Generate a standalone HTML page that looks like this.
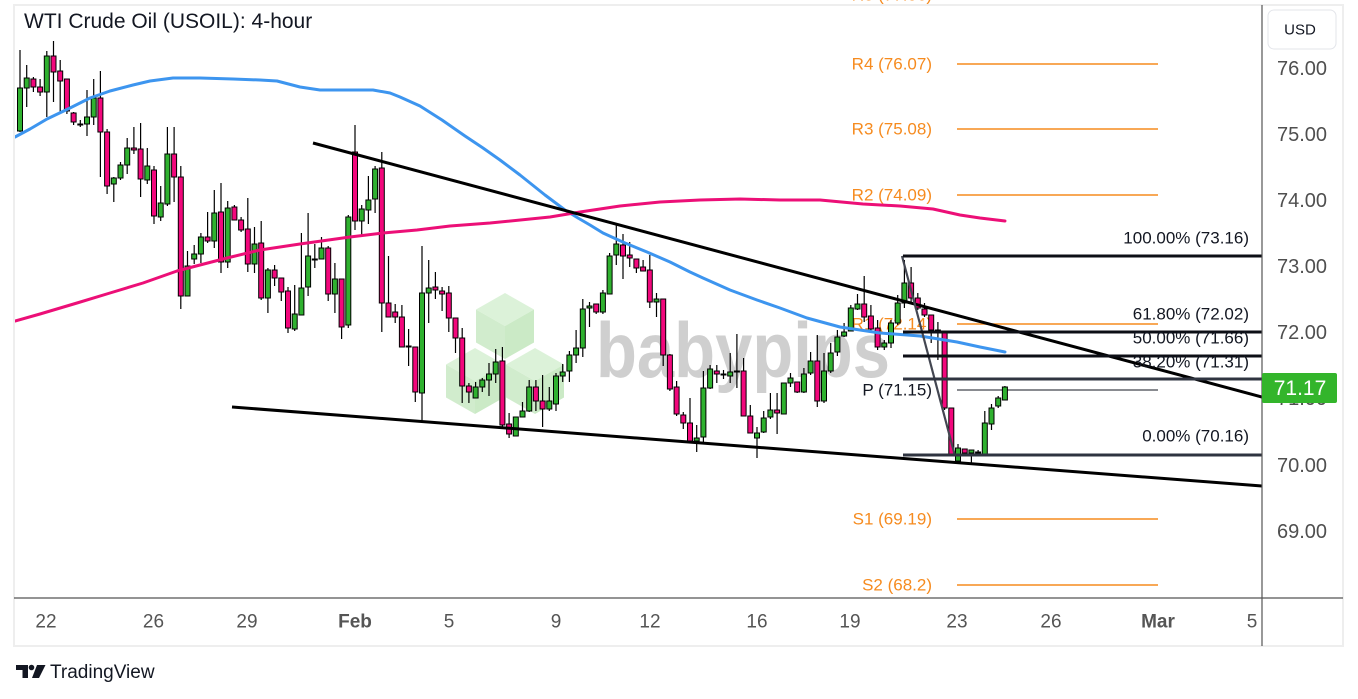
<!DOCTYPE html>
<html><head><meta charset="utf-8"><style>
html,body{margin:0;padding:0;background:#fff;}
svg{display:block;font-family:"Liberation Sans",sans-serif;}
</style></head><body>
<svg width="1358" height="699" viewBox="0 0 1358 699" xmlns="http://www.w3.org/2000/svg">
<rect x="0" y="0" width="1358" height="699" fill="#fff"/>
<rect x="14" y="5" width="1329" height="641" fill="#fff" stroke="#eeeeee" stroke-width="2"/>
<defs><clipPath id="cp"><rect x="15" y="6" width="1247" height="592"/></clipPath></defs>

<!-- watermark -->
<g opacity="0.9">
<g>
<polygon points="505,293 534,309.5 505,326 476,309.5" fill="#d9f1d5"/>
<polygon points="476,309.5 505,326 505,359 476,342.5" fill="#cdebc8"/>
<polygon points="505,326 534,309.5 534,342.5 505,359" fill="#c6e8c0"/>
</g>
<g>
<polygon points="475,348 504,364.5 475,381 446,364.5" fill="#d9f1d5"/>
<polygon points="446,364.5 475,381 475,414 446,397.5" fill="#cdebc8"/>
<polygon points="475,381 504,364.5 504,397.5 475,414" fill="#c6e8c0"/>
</g>
<g>
<polygon points="535,348 564,364.5 535,381 506,364.5" fill="#d9f1d5"/>
<polygon points="506,364.5 535,381 535,414 506,397.5" fill="#cdebc8"/>
<polygon points="535,381 564,364.5 564,397.5 535,414" fill="#c6e8c0"/>
</g>
</g>
<text x="596" y="377" font-size="78" font-weight="bold" fill="#cfcfcf" textLength="294" lengthAdjust="spacingAndGlyphs">babypips</text>

<!-- pivots -->
<g stroke="#f68b1f" stroke-width="1.5">
<path d="M957 64H1158M957 129H1158M957 195H1158M957 324H1158M957 519H1158M957 585H1158"/>
</g>
<path d="M957 390H1158" stroke="#131722" stroke-width="1"/>
<g font-size="17" fill="#f68b1f" text-anchor="end" dominant-baseline="central">
<text x="932" y="-5">R5 (77.06)</text>
<text x="932" y="64">R4 (76.07)</text>
<text x="932" y="129">R3 (75.08)</text>
<text x="932" y="195">R2 (74.09)</text>
<text x="932" y="324">R1 (72.14)</text>
<text x="932" y="519">S1 (69.19)</text>
<text x="932" y="585">S2 (68.2)</text>
</g>
<text x="932" y="390" font-size="17" fill="#131722" text-anchor="end" dominant-baseline="central">P (71.15)</text>

<g clip-path="url(#cp)">
<!-- wicks -->
<path fill="none" stroke="#000" stroke-width="1.2" d="M20 50V132M26.7 65V107M33.4 77V92M40.1 79V96M46.8 51V117M53.5 41V102M60.2 60V114M66.9 79V114M73.6 112V125M80.3 120V127M87 90V136M93.7 79V125M100.4 71V177M107.1 129V194M113.8 177V202M120.5 162V180M127.2 138V174M133.9 127V154M140.6 123V197M147.3 148V184M154 166V224M160.7 186V221M167.4 127V206M174.1 127V202M180.8 166V309M187.5 251V296M194.2 245V264M200.9 233V263M207.6 212V243M214.3 190V248M221 183V273M227.7 201V268M234.4 205V220M241.1 217V232M247.8 198V272M254.5 227V273M261.2 221V300M267.9 268V313M274.6 265V286M281.3 278V301M288 287V333M294.7 285V331M301.4 233V315M308.1 213V296M314.8 244V268M321.5 237V259M328.2 246V301M334.9 263V313M341.6 279V339M348.3 215V328M355 125V230M361.7 205V237M368.4 176V224M375.1 166V213M381.8 152V332M388.5 256V317M395.2 304V323M401.9 305V347M408.6 329V366M415.3 347V402M422 246V423M428.7 260V323M435.4 272V299M442.1 287V311M448.8 286V332M455.5 318V353M462.2 328V403M468.9 383V403M475.6 382V398M482.3 378V392M489 363V396M495.7 349V383M502.4 347V428M509.1 413V438M515.8 417V436M522.5 402V417M529.2 380V412M535.9 380V411M542.6 375V427M549.3 387V411M556 373V411M562.7 364V382M569.4 351V382M576.1 330V363M582.8 299V357M589.5 302V327M596.2 304V314M602.9 290V314M609.6 253V294M616.3 225V265M623 234V279M629.7 242V267M636.4 259V273M643.1 260V271M649.8 255V308M656.5 293V317M663.2 299V366M669.9 354V391M676.6 381V416M683.3 412V429M690 398V441M696.7 425V452M703.4 371V442M710.1 365V389M716.8 365V383M723.5 370V379M730.2 353V383M736.9 334V388M743.6 358V416M750.3 405V433M757 427V458M763.7 411V433M770.4 393V419M777.1 393V434M783.8 383V414M790.5 373V387M797.2 382V393M803.9 368V393M810.6 352V375M817.3 335V407M824 353V403M830.7 343V373M837.4 330V356M844.1 323V337M850.8 305V331M857.5 294V310M864.2 276V322M870.9 305V333M877.6 320V350M884.3 340V350M891 320V348M897.7 295V325M904.4 260V308M911.1 267V302M917.8 293V310M924.5 303V317M931.2 315V343M937.9 322V360M944.6 332V410M951.3 408V456M958 444V462M964.7 449V455M971.4 450V465M978.1 450V454M984.8 411V454M991.5 404V430M998.2 396V408M1004.9 386V400"/>
<!-- green bodies -->
<g fill="#2fb12f" stroke="#000" stroke-width="1">
<rect x="17.5" y="88" width="5" height="43"/>
<rect x="24.2" y="78" width="5" height="10"/>
<rect x="44.3" y="56" width="5" height="36"/>
<rect x="77.8" y="124" width="5" height="1"/>
<rect x="84.5" y="117" width="5" height="7"/>
<rect x="91.2" y="98" width="5" height="19"/>
<rect x="111.3" y="178" width="5" height="6"/>
<rect x="118" y="165" width="5" height="13"/>
<rect x="124.7" y="148" width="5" height="17"/>
<rect x="144.8" y="166" width="5" height="14"/>
<rect x="158.2" y="203" width="5" height="14"/>
<rect x="164.9" y="154" width="5" height="50"/>
<rect x="185" y="266" width="5" height="30"/>
<rect x="191.7" y="254" width="5" height="5"/>
<rect x="198.4" y="237" width="5" height="17"/>
<rect x="211.8" y="213" width="5" height="28"/>
<rect x="225.2" y="208" width="5" height="54"/>
<rect x="252" y="244" width="5" height="20"/>
<rect x="265.4" y="270" width="5" height="28"/>
<rect x="292.2" y="314" width="5" height="15"/>
<rect x="298.9" y="288" width="5" height="27"/>
<rect x="305.6" y="256" width="5" height="31"/>
<rect x="312.3" y="259" width="5" height="1"/>
<rect x="319" y="248" width="5" height="11"/>
<rect x="332.4" y="279" width="5" height="15"/>
<rect x="345.8" y="217" width="5" height="108"/>
<rect x="359.2" y="209" width="5" height="12"/>
<rect x="365.9" y="200" width="5" height="10"/>
<rect x="372.6" y="169" width="5" height="30"/>
<rect x="406.1" y="346" width="5" height="1"/>
<rect x="419.5" y="293" width="5" height="100"/>
<rect x="426.2" y="288" width="5" height="5"/>
<rect x="473.1" y="387" width="5" height="11"/>
<rect x="479.8" y="380" width="5" height="7"/>
<rect x="486.5" y="374" width="5" height="6"/>
<rect x="493.2" y="362" width="5" height="12"/>
<rect x="513.3" y="417" width="5" height="19"/>
<rect x="520" y="411" width="5" height="6"/>
<rect x="526.7" y="387" width="5" height="24"/>
<rect x="546.8" y="401" width="5" height="8"/>
<rect x="553.5" y="376" width="5" height="28"/>
<rect x="560.2" y="372" width="5" height="4"/>
<rect x="566.9" y="355" width="5" height="16"/>
<rect x="573.6" y="348" width="5" height="7"/>
<rect x="580.3" y="309" width="5" height="39"/>
<rect x="587" y="306" width="5" height="2"/>
<rect x="600.4" y="293" width="5" height="19"/>
<rect x="607.1" y="256" width="5" height="38"/>
<rect x="613.8" y="244" width="5" height="11"/>
<rect x="654" y="299" width="5" height="3"/>
<rect x="694.2" y="438" width="5" height="3"/>
<rect x="700.9" y="388" width="5" height="49"/>
<rect x="707.6" y="369" width="5" height="19"/>
<rect x="721" y="374" width="5" height="1"/>
<rect x="727.7" y="372" width="5" height="4"/>
<rect x="734.4" y="371" width="5" height="1"/>
<rect x="754.5" y="433" width="5" height="5"/>
<rect x="761.2" y="418" width="5" height="14"/>
<rect x="767.9" y="410" width="5" height="7"/>
<rect x="781.3" y="383" width="5" height="31"/>
<rect x="788" y="378" width="5" height="5"/>
<rect x="801.4" y="374" width="5" height="18"/>
<rect x="808.1" y="361" width="5" height="12"/>
<rect x="821.5" y="371" width="5" height="30"/>
<rect x="828.2" y="353" width="5" height="18"/>
<rect x="834.9" y="337" width="5" height="15"/>
<rect x="841.6" y="332" width="5" height="4"/>
<rect x="848.3" y="308" width="5" height="23"/>
<rect x="855" y="304" width="5" height="5"/>
<rect x="881.8" y="343" width="5" height="4"/>
<rect x="888.5" y="323" width="5" height="20"/>
<rect x="895.2" y="303" width="5" height="20"/>
<rect x="901.9" y="283" width="5" height="20"/>
<rect x="955.5" y="448" width="5" height="13"/>
<rect x="968.9" y="450" width="5" height="3"/>
<rect x="975.6" y="452" width="5" height="1"/>
<rect x="982.3" y="423" width="5" height="31"/>
<rect x="989" y="408" width="5" height="16"/>
<rect x="995.7" y="398" width="5" height="8"/>
<rect x="1002.4" y="387" width="5" height="13"/>
</g>
<!-- red bodies -->
<g fill="#f2077c" stroke="#000" stroke-width="1">
<rect x="30.9" y="79" width="5" height="8"/>
<rect x="37.6" y="87" width="5" height="5"/>
<rect x="51" y="56" width="5" height="16"/>
<rect x="57.7" y="71" width="5" height="10"/>
<rect x="64.4" y="79" width="5" height="32"/>
<rect x="71.1" y="113" width="5" height="9"/>
<rect x="97.9" y="98" width="5" height="34"/>
<rect x="104.6" y="132" width="5" height="54"/>
<rect x="131.4" y="148" width="5" height="2"/>
<rect x="138.1" y="149" width="5" height="30"/>
<rect x="151.5" y="170" width="5" height="46"/>
<rect x="171.6" y="154" width="5" height="23"/>
<rect x="178.3" y="177" width="5" height="119"/>
<rect x="205.1" y="237" width="5" height="4"/>
<rect x="218.5" y="212" width="5" height="50"/>
<rect x="231.9" y="207" width="5" height="13"/>
<rect x="238.6" y="220" width="5" height="10"/>
<rect x="245.3" y="229" width="5" height="35"/>
<rect x="258.7" y="243" width="5" height="55"/>
<rect x="272.1" y="270" width="5" height="8"/>
<rect x="278.8" y="278" width="5" height="14"/>
<rect x="285.5" y="291" width="5" height="37"/>
<rect x="325.7" y="248" width="5" height="46"/>
<rect x="339.1" y="279" width="5" height="48"/>
<rect x="352.5" y="152" width="5" height="69"/>
<rect x="379.3" y="168" width="5" height="135"/>
<rect x="386" y="303" width="5" height="14"/>
<rect x="392.7" y="312" width="5" height="5"/>
<rect x="399.4" y="317" width="5" height="30"/>
<rect x="412.8" y="347" width="5" height="45"/>
<rect x="432.9" y="287" width="5" height="3"/>
<rect x="439.6" y="291" width="5" height="3"/>
<rect x="446.3" y="293" width="5" height="25"/>
<rect x="453" y="318" width="5" height="20"/>
<rect x="459.7" y="338" width="5" height="48"/>
<rect x="466.4" y="386" width="5" height="6"/>
<rect x="499.9" y="361" width="5" height="64"/>
<rect x="506.6" y="424" width="5" height="10"/>
<rect x="533.4" y="387" width="5" height="14"/>
<rect x="540.1" y="401" width="5" height="8"/>
<rect x="593.7" y="304" width="5" height="8"/>
<rect x="620.5" y="245" width="5" height="11"/>
<rect x="627.2" y="255" width="5" height="3"/>
<rect x="633.9" y="259" width="5" height="9"/>
<rect x="640.6" y="267" width="5" height="4"/>
<rect x="647.3" y="270" width="5" height="32"/>
<rect x="660.7" y="299" width="5" height="56"/>
<rect x="667.4" y="355" width="5" height="34"/>
<rect x="674.1" y="387" width="5" height="27"/>
<rect x="680.8" y="415" width="5" height="8"/>
<rect x="687.5" y="423" width="5" height="18"/>
<rect x="714.3" y="371" width="5" height="3"/>
<rect x="741.1" y="371" width="5" height="45"/>
<rect x="747.8" y="416" width="5" height="17"/>
<rect x="774.6" y="410" width="5" height="3"/>
<rect x="794.7" y="382" width="5" height="10"/>
<rect x="814.8" y="361" width="5" height="40"/>
<rect x="861.7" y="304" width="5" height="13"/>
<rect x="868.4" y="316" width="5" height="13"/>
<rect x="875.1" y="328" width="5" height="19"/>
<rect x="908.6" y="283" width="5" height="15"/>
<rect x="915.3" y="298" width="5" height="10"/>
<rect x="922" y="309" width="5" height="6"/>
<rect x="928.7" y="315" width="5" height="15"/>
<rect x="935.4" y="330" width="5" height="2"/>
<rect x="942.1" y="332" width="5" height="76"/>
<rect x="948.8" y="408" width="5" height="47"/>
<rect x="962.2" y="449" width="5" height="4"/>
</g>

<!-- moving averages -->
<polyline fill="none" stroke="#3d95ef" stroke-width="3" stroke-linejoin="round" stroke-linecap="round" points="15,137 30,129 47,119 70,108 90,98 110,91 133,85 150,81 173,78 200,78 233,79 260,80 277,81 300,87 320,90 345,90 373,90 390,93 400,97 420,106 442,120 465,136 483,148 500,160 520,175 545,195 565,210 578,218 590,225 603,233 625,243 647,252 670,262 690,272 703,278 730,290 757,300 780,308 807,318 840,327 880,333 920,336 957,342 980,347 1005,352"/>
<polyline fill="none" stroke="#ec0f77" stroke-width="3" stroke-linejoin="round" stroke-linecap="round" points="15,321 40,314 77,303 110,293 143,283 177,271 200,265 227,258 260,250 300,244 350,237 383,233 417,230 450,226 490,223 550,217 580,212 620,206 660,202 700,200 740,199 780,200 820,200 863,204 900,206 933,209 960,215 980,218 1005,221"/>

<!-- trendlines -->
<line x1="313" y1="143" x2="1262" y2="397" stroke="#000" stroke-width="3"/>
<line x1="232" y1="407" x2="1262" y2="486" stroke="#000" stroke-width="3"/>

<!-- fib -->
<line x1="902" y1="256" x2="955" y2="456" stroke="#434651" stroke-width="2.2"/>
<g stroke-width="3">
<line x1="903" y1="256" x2="1262" y2="256" stroke="#0c0e15"/>
<line x1="903" y1="332" x2="1262" y2="332" stroke="#0c0e15"/>
<line x1="903" y1="356" x2="1262" y2="356" stroke="#0c0e15"/>
<line x1="903" y1="379" x2="1262" y2="379" stroke="#2f3440"/>
<line x1="903" y1="455" x2="1262" y2="455" stroke="#2f3440"/>
</g>
</g>
<g font-size="17" fill="#131722" text-anchor="end" dominant-baseline="central">
<text x="1249" y="238">100.00% (73.16)</text>
<text x="1249" y="314">61.80% (72.02)</text>
<text x="1249" y="338">50.00% (71.66)</text>
<text x="1249" y="362">38.20% (71.31)</text>
<text x="1249" y="436">0.00% (70.16)</text>
</g>

<!-- title -->
<text x="24" y="28" font-size="21" fill="#131722">WTI Crude Oil (USOIL): 4-hour</text>

<!-- axes -->
<line x1="1262" y1="5" x2="1262" y2="646" stroke="#555" stroke-width="1.2"/>
<line x1="14" y1="598" x2="1343" y2="598" stroke="#555" stroke-width="1.2"/>
<rect x="1268" y="10" width="68" height="39" rx="6" fill="#fff" stroke="#e3e5ea" stroke-width="1"/>
<text x="1300" y="30" font-size="15" fill="#131722" text-anchor="middle" dominant-baseline="central">USD</text>
<g font-size="20" fill="#4f4f4f" text-anchor="middle" dominant-baseline="central">
<text x="1302" y="69">76.00</text>
<text x="1302" y="135">75.00</text>
<text x="1302" y="201">74.00</text>
<text x="1302" y="267">73.00</text>
<text x="1302" y="333">72.00</text>
<text x="1302" y="399">71.00</text>
<text x="1302" y="466">70.00</text>
<text x="1302" y="532">69.00</text>
</g>
<rect x="1262" y="373" width="75" height="30" rx="2" fill="#33b52b"/>
<text x="1300" y="388.5" font-size="21" fill="#fff" text-anchor="middle" dominant-baseline="central">71.17</text>

<g font-size="19" fill="#555" text-anchor="middle" dominant-baseline="central">
<text x="46" y="622">22</text>
<text x="153.5" y="622">26</text>
<text x="247" y="622">29</text>
<text x="355" y="622" font-weight="bold">Feb</text>
<text x="449" y="622">5</text>
<text x="556" y="622">9</text>
<text x="650" y="622">12</text>
<text x="757" y="622">16</text>
<text x="850" y="622">19</text>
<text x="957" y="622">23</text>
<text x="1051" y="622">26</text>
<text x="1158" y="622" font-weight="bold">Mar</text>
<text x="1252" y="622">5</text>
</g>

<!-- TradingView logo -->
<g fill="#131722">
<path d="M16 665h12v13h-5.5v-8H16z"/>
<circle cx="31.5" cy="667.5" r="2.8"/>
<path d="M37 665h8.5l-6.5 13h-7z"/>
</g>
<text x="50" y="678" font-size="19" fill="#131722">TradingView</text>
</svg>
</body></html>
